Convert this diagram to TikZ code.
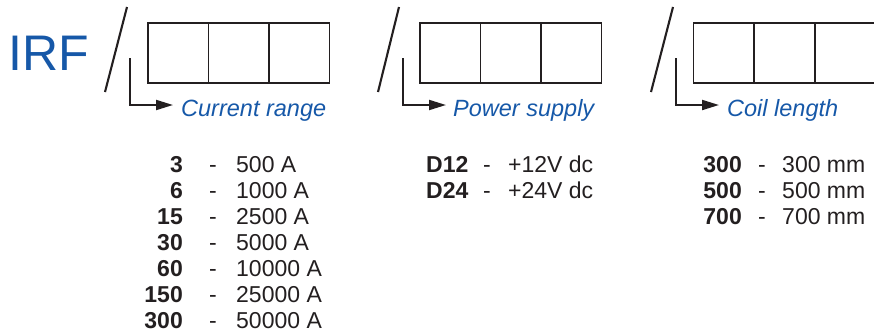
\documentclass[tikz,border=0pt]{standalone}
\usepackage{fontspec}
\setmainfont{Liberation Sans}
\usetikzlibrary{arrows.meta}
\definecolor{irfblue}{RGB}{22,88,168}
\definecolor{ink}{RGB}{35,31,32}
\begin{document}
\begin{tikzpicture}[x=1pt,y=-1pt,
  cell/.style={draw=ink,line width=1.3pt,minimum width=60.5pt,minimum height=60pt,inner sep=0pt,outer sep=0pt},
  slashline/.style={draw=ink,line width=2.1pt},
  pointer/.style={draw=ink,line width=2pt,-{Triangle[length=17pt,width=10pt]}},
  fieldlabel/.style={anchor=base west,inner sep=0pt,text=irfblue,font=\fontsize{23.5}{27}\selectfont\itshape},
  code/.style={anchor=base east,inner sep=0pt,text=ink,font=\fontsize{23}{27}\selectfont\bfseries},
  codew/.style={anchor=base west,inner sep=0pt,text=ink,font=\fontsize{23}{27}\selectfont\bfseries},
  sep/.style={anchor=base,inner sep=0pt,text=ink,font=\fontsize{23}{27}\selectfont},
  val/.style={anchor=base west,inner sep=0pt,text=ink,font=\fontsize{23}{27}\selectfont}
]
\useasboundingbox (0,0) rectangle (874,335);

% title
\node[anchor=base west,inner sep=0pt,text=irfblue,font=\fontsize{50}{54}\selectfont] (irf) at (8,70) {IRF};

% slashes
\coordinate (s1a) at (127,7);  \coordinate (s1b) at (105,92);
\coordinate (s2a) at (399,7);  \coordinate (s2b) at (378,92);
\coordinate (s3a) at (673,7);  \coordinate (s3b) at (651,92);
\draw[slashline] (s1a) -- (s1b);
\draw[slashline] (s2a) -- (s2b);
\draw[slashline] (s3a) -- (s3b);

% boxes
\node[cell] (a1) at (178.25,53) {};
\node[cell] (a2) at (238.75,53) {};
\node[cell] (a3) at (299.25,53) {};
\node[cell] (b1) at (450.25,53) {};
\node[cell] (b2) at (510.75,53) {};
\node[cell] (b3) at (571.25,53) {};
\node[cell] (c1) at (723.5,53) {};
\node[cell] (c2) at (784.5,53) {};
\node[cell] (c3) at (845.5,53) {};

% field labels
\node[fieldlabel] (la) at (181,116) {Current range};
\node[fieldlabel] (lb) at (453,116) {Power supply};
\node[fieldlabel] (lc) at (727,116) {Coil length};

% pointers
\coordinate (pa) at (130,58); \coordinate (ta) at (173,105);
\coordinate (pb) at (403,58); \coordinate (tb) at (446,105);
\coordinate (pc) at (676,58); \coordinate (tc) at (719,105);
\draw[pointer] (pa) |- (ta);
\draw[pointer] (pb) |- (tb);
\draw[pointer] (pc) |- (tc);

% current range table
\foreach \c/\v [count=\i from 0] in {3/500 A,6/1000 A,15/2500 A,30/5000 A,60/10000 A,150/25000 A,300/50000 A}{
  \node[code] (ca\i) at (183,172+26*\i) {\c};
  \node[sep] (da\i) at (213,172+26*\i) {-};
  \node[val] (va\i) at (236,172+26*\i) {\v};
}

% power supply table
\foreach \c/\v [count=\i from 0] in {D12/+12V dc,D24/+24V dc}{
  \node[codew] (cb\i) at (426,172+26*\i) {\c};
  \node[sep] (db\i) at (487,172+26*\i) {-};
  \node[val] (vb\i) at (508,172+26*\i) {\v};
}

% coil length table
\foreach \c/\v [count=\i from 0] in {300/300 mm,500/500 mm,700/700 mm}{
  \node[code] (cc\i) at (742,172+26*\i) {\c};
  \node[sep] (dc\i) at (762,172+26*\i) {-};
  \node[val] (vc\i) at (782,172+26*\i) {\v};
}
\end{tikzpicture}
\end{document}
